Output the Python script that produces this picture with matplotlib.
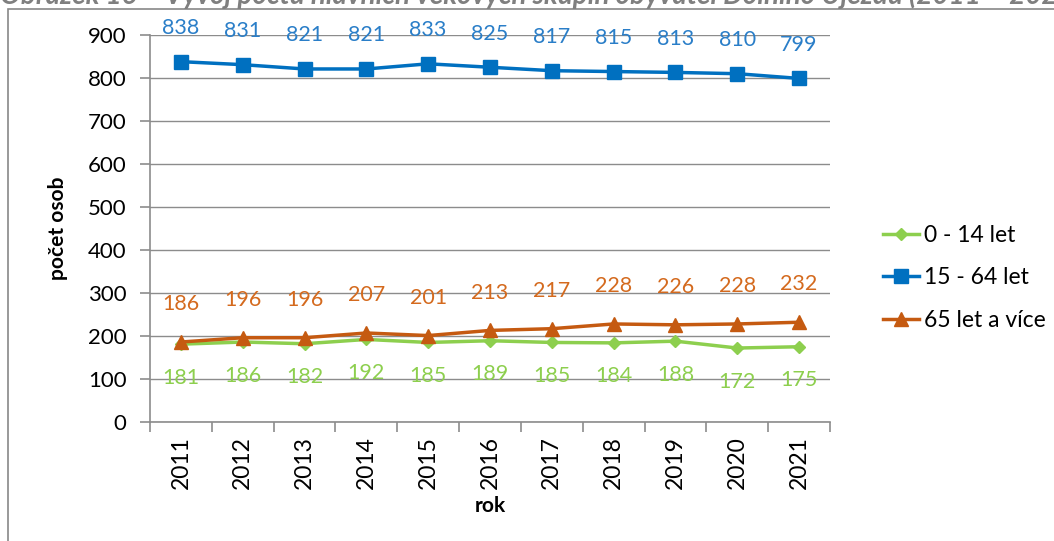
import numpy as np
import matplotlib.pyplot as plt
from matplotlib.patches import Rectangle

years = ["2011", "2012", "2013", "2014", "2015", "2016", "2017", "2018", "2019", "2020", "2021"]
age_0_14 = [181, 186, 182, 192, 185, 189, 185, 184, 188, 172, 175]
age_15_64 = [838, 831, 821, 821, 833, 825, 817, 815, 813, 810, 799]
age_65 = [186, 196, 196, 207, 201, 213, 217, 228, 226, 228, 232]

plt.rcParams['font.family'] = ['Lato', 'DejaVu Sans']

fig = plt.figure(figsize=(10.54, 5.41), dpi=100)
W, H = 1054, 541

# outer chart frame, the title above it is cut by the image edge
fig.patches.append(Rectangle((8 / W, -0.1), 1.2, 1 - 9 / H + 0.1, transform=fig.transFigure,
                             fill=False, edgecolor="#888888", linewidth=1.2))
fig.text(0.0, 1 - 4 / H, "Obrázek 16 – Vývoj počtu hlavních věkových skupin obyvatel Dolního Újezdu (2011 – 2021)",
         fontsize=20, fontweight="bold", style="italic", color="#7f7f7f", va="baseline", ha="left")

ax = fig.add_axes([150 / W, 1 - 422 / H, 680 / W, 387 / H])
x = np.arange(len(years))

c_green, c_blue, c_orange = "#8DCF4E", "#0070C0", "#C55A11"
ax.plot(x, age_0_14, color=c_green, lw=2.5, marker="D", ms=6, label="0 - 14 let", zorder=3)
ax.plot(x, age_15_64, color=c_blue, lw=2.5, marker="s", ms=10, label="15 - 64 let", zorder=3)
ax.plot(x, age_65, color=c_orange, lw=2.5, marker="^", ms=10, label="65 let a více", zorder=4)

for i in x:
    ax.annotate(str(age_15_64[i]), (i, age_15_64[i]), xytext=(0, 17), textcoords="offset points",
                ha="center", va="bottom", fontsize=15.5, color="#2A7EC8")
    ax.annotate(str(age_65[i]), (i, age_65[i]), xytext=(0, 20), textcoords="offset points",
                ha="center", va="bottom", fontsize=15.5, color="#D46A1E")
    ax.annotate(str(age_0_14[i]), (i, age_0_14[i]), xytext=(0, -17), textcoords="offset points",
                ha="center", va="top", fontsize=15.5, color="#8DCF4E")

ax.set_xlim(-0.5, len(years) - 0.5)
ax.set_ylim(0, 900)
ax.set_yticks(range(0, 901, 100))
ax.yaxis.grid(True, color="#8c8c8c", lw=1)
ax.set_axisbelow(True)
for s in ["top", "right"]:
    ax.spines[s].set_visible(False)
ax.spines["left"].set_color("#8c8c8c")
ax.spines["bottom"].set_color("#8c8c8c")
ax.spines["left"].set_linewidth(1.2)
ax.spines["bottom"].set_linewidth(1.2)

ax.set_xticks(np.arange(-0.5, len(years), 1), minor=False)
ax.set_xticklabels([])
ax.set_xticks(x, minor=True)
ax.set_xticklabels(years, minor=True, rotation=90, fontsize=16.5)
ax.tick_params(axis="x", which="major", length=7, color="#8c8c8c", width=1.2)
ax.tick_params(axis="x", which="minor", length=0, pad=10)
ax.tick_params(axis="y", length=7, color="#8c8c8c", width=1.2, labelsize=16, pad=10)

ax.set_ylabel("počet osob", fontsize=15, fontweight="bold", labelpad=14)
ax.set_xlabel("rok", fontsize=15, fontweight="bold", labelpad=5)

ax.legend(loc="center left", bbox_to_anchor=(862 / W, 1 - 278 / H), bbox_transform=fig.transFigure,
          frameon=False, fontsize=16.5, labelspacing=0.95, handlelength=1.6, handletextpad=0.2)

fig.savefig("out.png", dpi=100)
